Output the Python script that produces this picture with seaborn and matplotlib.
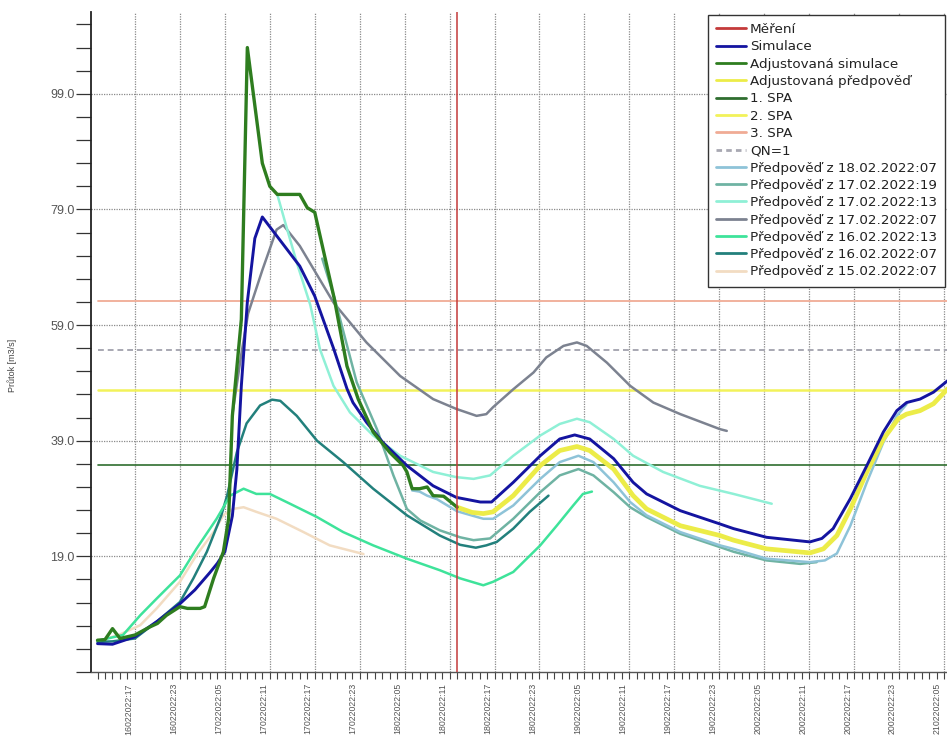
import numpy as np
import pandas as pd
import matplotlib
matplotlib.use("Agg")
import matplotlib.pyplot as plt
import matplotlib.transforms as mtransforms
from matplotlib.lines import Line2D
import seaborn as sns

# time axis: hours since 16.02.2022 00:00
sim_t = [12, 14, 17, 20, 23, 25, 27, 28, 29, 30, 30.6, 31.2, 32, 33, 34, 36, 39, 41, 43.5, 45.3, 46.1, 47.9,
         50.1, 53.3, 56.8, 59.9, 63.1, 64.6, 67.5, 71.1, 73.7, 75.7, 77.7, 80.9, 83.5, 85.3, 89.8, 95.1, 96.9,
         101.3, 107.1, 108.7, 110.2, 112.5, 114.7, 116.9, 118.7, 120, 121.8, 123.6, 125.5]
sim_v = [3.9, 3.8, 5.1, 7.8, 10.8, 13.2, 16.2, 17.8, 19.8, 26, 34, 48.5, 63, 74, 77.7, 74.3, 69.2, 64, 55, 48,
         45.6, 42.2, 38.7, 34.7, 31.2, 29.2, 28.4, 28.4, 31.8, 36.4, 39.3, 40.0, 39.3, 35.9, 31.8, 29.8, 26.9,
         24.6, 23.8, 22.3, 21.5, 22.1, 23.8, 29, 34.7, 40.5, 44.2, 45.6, 46.2, 47.4, 49.4]

adj_sim_t = [12, 13, 14, 15, 17, 19, 20, 21.2, 23, 24, 25.7, 26.3, 27.5, 28.8, 29.5, 30, 31.2, 32, 33, 34, 35,
             36, 39, 40, 41, 43.6, 45.3, 46.8, 48.8, 51, 52.8, 53.3, 54, 55, 56, 56.8, 58.2, 60]
adj_sim_v = [4.5, 4.6, 6.5, 4.8, 5.4, 6.8, 7.4, 8.8, 10.3, 10.0, 10.0, 10.3, 15.2, 19.8, 25.5, 43.3, 60, 107,
             97, 87, 83, 81.6, 81.6, 79.3, 78.5, 63.6, 51.9, 46.2, 40.5, 37, 34.7, 33.6, 30.7, 30.7, 31, 29.5,
             29.4, 27.5]

adj_fc_t = [60, 62, 63.5, 64.8, 67.5, 71.1, 73.7, 76, 77.7, 80.9, 83.5, 85.3, 89.8, 95.1, 96.9, 101.3, 107.1,
            108.9, 110.7, 112.5, 114.7, 116.9, 118.9, 120, 121.8, 123.6, 125.5]
adj_fc_v = [27.5, 26.6, 26.4, 26.7, 29.5, 34.7, 37.3, 38, 37.3, 34.1, 29.5, 27.2, 24.3, 22.6, 21.8, 20.3, 19.6,
            20.3, 22.6, 27.2, 33.6, 39.3, 42.8, 43.6, 44.2, 45.4, 48.0]

fc_1807_t = [54, 55, 56, 57.3, 60, 63.5, 64.8, 67.5, 71.1, 73.7, 76.2, 78.2, 80.9, 83.1, 85.3, 89.8, 95.1, 96.9,
             101.3, 107.1, 109.1, 110.7, 112.5, 114.7, 116.9, 118.7, 120]
fc_1807_v = [30.4, 30.2, 29.5, 28.9, 26.8, 25.5, 25.5, 27.8, 32.4, 35.3, 36.4, 35.3, 31.8, 28.4, 26.1, 23.2,
             20.9, 20.3, 18.6, 18.0, 18.3, 19.5, 24.3, 31.8, 38.7, 43.3, 45.3]

fc_1719_t = [42, 43.7, 46.6, 49.3, 51.5, 53.3, 55.1, 57.7, 60.4, 62.2, 64.4, 67.5, 71.1, 73.7, 76.2, 78.2, 80.9,
             83.1, 85.3, 89.8, 95.1, 96.9, 101.3, 105.8, 108]
fc_1719_v = [70.5, 63.4, 49.1, 41, 33, 27.2, 25.2, 23.5, 22.3, 21.8, 22.1, 25.5, 30.1, 33, 34.1, 33, 30.1, 27.5,
             25.8, 22.9, 20.6, 19.8, 18.3, 17.7, 18.0]

fc_1713_t = [36, 37, 38.6, 40.4, 41.7, 43.5, 45.7, 48.8, 52.4, 56.8, 59.9, 62.2, 64.4, 67.5, 71.1, 73.7, 76,
             77.7, 80.9, 83.5, 87.5, 92.4, 96.9, 102]
fc_1713_v = [81.6, 77, 69.8, 62.5, 54.8, 48.5, 43.9, 39.9, 36.4, 33.6, 32.7, 32.4, 33, 36.4, 39.9, 41.9, 42.8,
             42.2, 39.3, 36.4, 33.6, 31.2, 29.8, 28.1]

fc_1707_t = [30, 31.2, 32.1, 34, 35.9, 36.8, 39, 43.5, 47.9, 52.4, 56.8, 59.9, 62.6, 63.9, 64.8, 67.5, 70.2,
             71.9, 74.2, 76, 77.3, 80, 83.1, 86.2, 89.8, 95.1, 96]
fc_1707_v = [43.5, 54, 61, 68.5, 75.5, 76.3, 72.7, 62.9, 56, 50.2, 46.2, 44.5, 43.3, 43.6, 44.8, 47.9, 50.8,
             53.4, 55.4, 56, 55.4, 52.5, 48.5, 45.6, 43.6, 41, 40.7]

fc_1613_t = [12, 15.4, 17.7, 19.9, 23, 25.2, 27.9, 29.7, 31.5, 33.2, 35, 37.7, 41.3, 44.8, 48.8, 53.3, 57.7,
             60.4, 63.5, 64.8, 67.5, 71.1, 73.3, 75.5, 76.8, 78]
fc_1613_v = [4.4, 5.4, 8.8, 11.7, 15.7, 20.3, 25.5, 29.5, 30.7, 29.8, 29.8, 28.1, 25.8, 23.2, 20.9, 18.6, 16.6,
             15.2, 14, 14.6, 16.3, 20.9, 24.3, 27.8, 29.8, 30.2]

fc_1607_t = [12, 14, 17, 19.9, 23, 24.8, 26.6, 28.5, 29.3, 30.6, 31.9, 33.7, 35.3, 36.4, 38.6, 41.3, 44.8, 48.8,
             53.3, 57.7, 60.4, 62.5, 63.9, 65.3, 67.5, 69.7, 72.2]
fc_1607_v = [4.2, 4.3, 4.8, 7.7, 11.1, 15.2, 19.8, 26, 29.5, 37, 42, 45.1, 46.1, 45.9, 43.3, 39, 35.3, 30.7,
             26.1, 22.6, 21.0, 20.5, 20.9, 21.5, 23.8, 26.7, 29.5]

fc_1507_t = [12, 15, 17.7, 19.9, 23, 25.2, 27.5, 28.8, 30.1, 31.5, 33.2, 35.9, 39.5, 43, 47.5]
fc_1507_v = [4.3, 5.5, 7.1, 10, 14.6, 19.2, 23.2, 26.1, 27.2, 27.5, 26.7, 25.5, 23.2, 20.9, 19.4]

# thresholds
spa1 = 34.8
spa2 = 47.8
spa3 = 63.2
qn1 = 54.7
now_t = 60
ref_start, ref_end = 12, 126

x_tick_hours = [17, 23, 29, 35, 41, 47, 53, 59, 65, 71, 77, 83, 89, 95, 101, 107, 113, 119, 125]
x_tick_labels = ["16022022:17", "16022022:23", "17022022:05", "17022022:11", "17022022:17", "17022022:23",
                 "18022022:05", "18022022:11", "18022022:17", "18022022:23", "19022022:05", "19022022:11",
                 "19022022:17", "19022022:23", "20022022:05", "20022022:11", "20022022:17", "20022022:23",
                 "21022022:05"]
y_tick_values = [19, 39, 59, 79, 99]
y_tick_labels = ["19.0", "39.0", "59.0", "79.0", "99.0"]

sns.set_theme(style="white")
plt.rcParams["font.family"] = ["Liberation Sans", "DejaVu Sans"]

W, H = 947, 738
fig = plt.figure(figsize=(W / 100, H / 100), dpi=100)
ax = fig.add_axes([91 / W, 66 / H, (W - 91) / W, 660 / H])

C = {
    "meas": "#c43a3a", "sim": "#1414a0", "adjsim": "#2e7d1f", "adjfc": "#ecec48",
    "spa1": "#2f6e2f", "spa2": "#f2f25a", "spa3": "#f0ab95", "qn": "#a8a8b2",
    "f1807": "#8ec3d8", "f1719": "#6fb3a3", "f1713": "#8ff0d6", "f1707": "#7c8290",
    "f1613": "#3ee39a", "f1607": "#22807c", "f1507": "#f2dcc2",
}

# reference lines
sns.lineplot(x=[ref_start, ref_end], y=[spa3, spa3], ax=ax, color=C["spa3"], lw=1.3)
sns.lineplot(x=[ref_start, ref_end], y=[qn1, qn1], ax=ax, color=C["qn"], lw=1.4, dashes=False,
             linestyle=(0, (3, 2)))
sns.lineplot(x=[ref_start, ref_end], y=[spa2, spa2], ax=ax, color=C["spa2"], lw=1.8)
sns.lineplot(x=[ref_start, ref_end], y=[spa1, spa1], ax=ax, color=C["spa1"], lw=1.2)

series = [
    (fc_1507_t, fc_1507_v, C["f1507"], 1.8),
    (fc_1607_t, fc_1607_v, C["f1607"], 1.8),
    (fc_1613_t, fc_1613_v, C["f1613"], 1.8),
    (fc_1707_t, fc_1707_v, C["f1707"], 1.8),
    (fc_1713_t, fc_1713_v, C["f1713"], 1.8),
    (fc_1719_t, fc_1719_v, C["f1719"], 1.8),
    (fc_1807_t, fc_1807_v, C["f1807"], 1.8),
    (adj_fc_t, adj_fc_v, C["adjfc"], 3.4),
    (sim_t, sim_v, C["sim"], 2.1),
    (adj_sim_t, adj_sim_v, C["adjsim"], 2.4),
]
for t, v, col, lw in series:
    df = pd.DataFrame({"t": t, "v": v})
    sns.lineplot(data=df, x="t", y="v", ax=ax, color=col, lw=lw, sort=False, estimator=None)

ax.axvline(now_t, color=C["meas"], lw=1.1, zorder=5)

ax.set_xlim(11.13, 125.4)
ax.set_ylim(-0.72, 113.15)

# x axis
ax.set_xticks(x_tick_hours)
ax.set_xticklabels(x_tick_labels, rotation=90, ha="center", va="top", fontsize=6.3, color="#555555")
ax.set_xticks(np.arange(12, 126), minor=True)
ax.tick_params(axis="x", which="both", direction="out", length=5, width=0.8, color="#444444", pad=3,
               bottom=True)
offset = mtransforms.ScaledTranslation(-6.5 / 100, 0, fig.dpi_scale_trans)
for tk in ax.xaxis.get_major_ticks():
    tk.label1.set_transform(tk.label1.get_transform() + offset)

# y axis
ax.set_yticks(y_tick_values)
ax.set_yticklabels(y_tick_labels, fontsize=9, color="#555555")
ax.set_yticks([m for m in np.arange(-1, 112, 4) if m not in y_tick_values], minor=True)
ax.tick_params(axis="y", which="both", direction="out", length=10.5, width=0.9, color="#333333", pad=1.5,
               left=True)

ax.grid(True, axis="both", which="major", color="#8a8a8a", lw=0.9, linestyle=(0, (1, 1)))
ax.set_axisbelow(True)

for s in ["top", "right"]:
    ax.spines[s].set_visible(False)
ax.spines["left"].set_color("#222222")
ax.spines["left"].set_linewidth(1.3)
ax.spines["bottom"].set_color("#555555")
ax.spines["bottom"].set_linewidth(1.0)

ax.set_xlabel("")
ax.set_ylabel("Průtok [m3/s]", fontsize=6.5, color="#444444")
ax.yaxis.set_label_coords(-0.0864, 0.465)

legend_items = [
    ("Měření", C["meas"], "-"),
    ("Simulace", C["sim"], "-"),
    ("Adjustovaná simulace", C["adjsim"], "-"),
    ("Adjustovaná předpověď", C["adjfc"], "-"),
    ("1. SPA", C["spa1"], "-"),
    ("2. SPA", C["spa2"], "-"),
    ("3. SPA", C["spa3"], "-"),
    ("QN=1", C["qn"], (0, (2, 1.5))),
    ("Předpověď z 18.02.2022:07", C["f1807"], "-"),
    ("Předpověď z 17.02.2022:19", C["f1719"], "-"),
    ("Předpověď z 17.02.2022:13", C["f1713"], "-"),
    ("Předpověď z 17.02.2022:07", C["f1707"], "-"),
    ("Předpověď z 16.02.2022:13", C["f1613"], "-"),
    ("Předpověď z 16.02.2022:07", C["f1607"], "-"),
    ("Předpověď z 15.02.2022:07", C["f1507"], "-"),
]
handles = [Line2D([0], [0], color=c, lw=2.0, linestyle=ls) for _, c, ls in legend_items]
labels = [n for n, _, _ in legend_items]
leg = ax.legend(handles, labels, loc="upper right", bbox_to_anchor=(945 / W, 1 - 15 / H),
                bbox_transform=fig.transFigure, borderaxespad=0, frameon=True, fancybox=False,
                edgecolor="#333333", facecolor="white", framealpha=1,
                prop={"family": "DejaVu Sans", "size": 9.7}, handlelength=2.2, handletextpad=0.3,
                labelspacing=0.32, borderpad=0.6)
leg.get_frame().set_linewidth(1.0)
for txt in leg.get_texts():
    txt.set_color("#222222")

fig.savefig("out.png", dpi=100, facecolor="white")
